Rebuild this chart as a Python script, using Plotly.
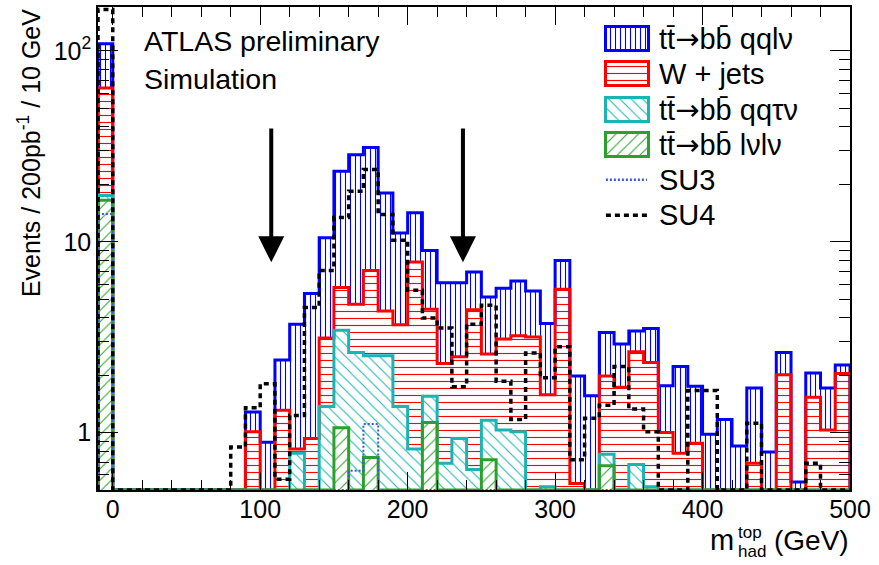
import numpy as np
import plotly.graph_objects as go

# ---------------- data ----------------
bin_edges = np.arange(-10, 501, 10)          # 51 bins of 10 GeV
zeros9 = [0.0] * 9

# per-process contributions (stacked: lvlv -> qqtv -> wjets -> qqlv)
tt_qqlv = [45.0] + zeros9 + [
    0.27, 0.89, 1.09, 2.88, 4.42, 7.37, 17.65, 23.89, 24.12, 13.66,
    7.43, 6.37, 4.57, 3.80, 3.60, 2.54, 2.56, 2.61, 3.00, 2.35,
    2.15, 2.34, 1.44, 1.56, 1.37, 1.18, 0.76, 1.18, 0.76, 1.44,
    0.87, 0.98, 1.17, 0.85, 1.02, 0.79, 0.62, 0.55, 0.52, 0.68,
    0.22]
w_jets = [46.5] + zeros9 + [
    1.01, 0.0, 1.31, 0.04, 0.93, 1.76, 2.31, 2.08, 4.55, 1.81,
    2.30, 7.01, 2.88, 1.61, 1.57, 3.76, 1.42, 2.06, 2.21, 3.17,
    1.06, 5.64, 0.54, 0.0, 1.21, 1.73, 1.97, 1.81, 1.00, 0.78,
    0.88, 0.0, 0.0, 0.0, 0.69, 0.0, 2.01, 0.0, 1.53, 1.03,
    2.04]
tt_qqtv = [1.0] + zeros9 + [
    0.0, 0.0, 0.0, 0.78, 0.0, 1.37, 2.38, 2.63, 1.79, 2.53,
    1.37, 0.82, 0.42, 0.69, 0.93, 0.64, 0.44, 1.03, 1.01, 0.0,
    0.52, 0.0, 0.0, 0.0, 0.10, 0.0, 0.68, 0.52, 0.0, 0.0,
    0.0, 0.0, 0.0, 0.0, 0.0, 0.0, 0.0, 0.0, 0.0, 0.0,
    0.0]
tt_lvlv = [16.5] + zeros9 + [
    0.0, 0.0, 0.0, 0.0, 0.0, 0.0, 1.06, 0.0, 0.74, 0.0,
    0.0, 0.0, 1.13, 0.0, 0.0, 0.0, 0.72, 0.0, 0.0, 0.0,
    0.0, 0.0, 0.0, 0.0, 0.67, 0.0, 0.0, 0.0, 0.0, 0.0,
    0.0, 0.0, 0.0, 0.0, 0.0, 0.0, 0.0, 0.0, 0.0, 0.0,
    0.0]
su3 = [14.0] + zeros9 + [
    0.0, 0.0, 0.0, 0.0, 0.0, 0.0, 0.0, 0.63, 1.11, 0.0] + [0.0] * 31
su4 = [165.0] + [0.0] * 8 + [
    0.84, 1.35, 1.80, 0.57, 1.23, 4.52, 7.08, 13.4, 18.4, 23.9,
    13.9, 10.2, 5.57, 3.98, 3.53, 1.74, 3.70, 4.65, 1.86, 1.17,
    2.61, 1.94, 2.82, 0.72, 1.19, 1.39, 2.22, 1.33, 1.01, 0.0,
    0.0, 1.66, 1.66, 0.0, 0.0, 1.12, 0.0, 0.0, 0.0, 0.69,
    0.0, 0.0]

cut_positions = [107.5, 237.5]          # GeV, arrows
arrow_from, arrow_to = 40.0, 7.8

ARW = "<span style='font-family:DejaVu Sans'>\u2192</span>"
legend_labels = ["tt\u0304" + ARW + "bb\u0304 qql\u03bd", "W + jets",
                 "tt\u0304" + ARW + "bb\u0304 qq\u03c4\u03bd",
                 "tt\u0304" + ARW + "bb\u0304 l\u03bdl\u03bd", "SU3", "SU4"]
x_ticks = [0, 100, 200, 300, 400, 500]
y_ticks = [1, 10, 100]
y_ticktext = ["1", "10", "10<sup>2</sup>"]

# ---------------- styling ----------------
FONT = "Liberation Sans, Arial, Helvetica, sans-serif"
YMIN, YMAX = 0.5, 170.0
BLUE, RED, CYAN, GREEN = "#0000ff", "#ff0000", "#19b4b4", "#2ca02c"
SU3C = "#3a5fcd"
W, H = 879, 565
L, R, T, B = 98.3, 850.0, 5.0, 490.0

def pxx(x):
    return (x - L) / (R - L)

def pxy(y):
    return (B - y) / (B - T)

centers = 0.5 * (bin_edges[:-1] + bin_edges[1:])

lvl_green = np.array(tt_lvlv)
lvl_cyan = lvl_green + np.array(tt_qqtv)
lvl_red = lvl_cyan + np.array(w_jets)
lvl_blue = lvl_red + np.array(tt_qqlv)


def step(vals):
    v = [x if x > 0 else YMIN for x in vals]
    xs = [bin_edges[0]] + list(bin_edges[:-1]) + [bin_edges[-1], bin_edges[-1]]
    ys = [YMIN] + v + [v[-1], YMIN]
    return xs, ys


fig = go.Figure()

layers = [
    (lvl_blue, BLUE, "|", 5, 0.22),
    (lvl_red, RED, "-", 7, 0.16),
    (lvl_cyan, CYAN, "\\", 8, 0.13),
    (lvl_green, GREEN, "/", 8, 0.13),
]
for vals, col, shp, size, sol in layers:
    fig.add_trace(go.Bar(
        x=centers, y=[v if v > 0 else None for v in vals], width=10,
        marker=dict(color="white", line=dict(width=0),
                    pattern=dict(shape=shp, fgcolor=col, bgcolor="white",
                                 size=size, solidity=sol, fillmode="replace")),
        showlegend=False, hoverinfo="skip"))
    xs, ys = step(list(vals))
    fig.add_trace(go.Scatter(x=xs, y=ys, mode="lines",
                             line=dict(color=col, width=3, shape="hv"),
                             showlegend=False, hoverinfo="skip"))

xs, ys = step(su3)
fig.add_trace(go.Scatter(x=xs, y=ys, mode="lines",
                         line=dict(color=SU3C, width=2, shape="hv", dash="2px,2px"),
                         showlegend=False, hoverinfo="skip"))
xs, ys = step(su4)
fig.add_trace(go.Scatter(x=xs, y=ys, mode="lines",
                         line=dict(color="black", width=3.5, shape="hv", dash="5px,4px"),
                         showlegend=False, hoverinfo="skip"))

# ---------------- custom legend (on a pixel-space overlay axis) ----------------
row_y = [37, 72.5, 108, 143.5, 178.5, 214]
box_x0, box_x1, text_x = 606, 649, 657
sw = [(BLUE, "|", 5, 0.22), (RED, "-", 7, 0.16), (CYAN, "\\", 8, 0.13), (GREEN, "/", 8, 0.13)]
for (col, shp, size, sol), yc in zip(sw, row_y[:4]):
    fig.add_trace(go.Bar(
        x=[(box_x0 + box_x1) / 2], y=[24], base=[yc - 12], width=box_x1 - box_x0,
        xaxis="x2", yaxis="y2",
        marker=dict(color="white", line=dict(width=3, color=col),
                    pattern=dict(shape=shp, fgcolor=col, bgcolor="white",
                                 size=size, solidity=sol, fillmode="replace")),
        showlegend=False, hoverinfo="skip"))
fig.add_trace(go.Scatter(x=[box_x0, box_x1 - 2], y=[row_y[4]] * 2, mode="lines",
                         xaxis="x2", yaxis="y2",
                         line=dict(color=SU3C, width=2.5, dash="2px,2px"),
                         showlegend=False, hoverinfo="skip"))
fig.add_trace(go.Scatter(x=[box_x0, box_x1 - 2], y=[row_y[5]] * 2, mode="lines",
                         xaxis="x2", yaxis="y2",
                         line=dict(color="black", width=3.5, dash="5px,4px"),
                         showlegend=False, hoverinfo="skip"))

ann = []
for lab, yc in zip(legend_labels, row_y):
    ann.append(dict(x=pxx(text_x), y=pxy(yc), xref="paper", yref="paper",
                    text=lab, showarrow=False, xanchor="left", yanchor="middle",
                    font=dict(family=FONT, size=29, color="black")))

ann.append(dict(x=pxx(142), y=pxy(39), xref="paper", yref="paper",
                text="ATLAS preliminary", showarrow=False, xanchor="left",
                yanchor="middle", font=dict(family=FONT, size=28.5, color="black")))
ann.append(dict(x=pxx(142), y=pxy(77), xref="paper", yref="paper",
                text="Simulation", showarrow=False, xanchor="left",
                yanchor="middle", font=dict(family=FONT, size=28.5, color="black")))

# axis titles
ann.append(dict(x=pxx(30), y=pxy(152), xref="paper", yref="paper",
                text="Events / 200pb<sup>-1</sup> / 10 GeV", textangle=-90,
                showarrow=False, xanchor="center", yanchor="middle",
                font=dict(family=FONT, size=25, color="black")))
ann.append(dict(x=pxx(851), y=pxy(541), xref="paper", yref="paper",
                text="(GeV)", showarrow=False, xanchor="right", yanchor="middle",
                font=dict(family=FONT, size=28, color="black")))
ann.append(dict(x=pxx(736), y=pxy(540), xref="paper", yref="paper",
                text="m", showarrow=False, xanchor="right", yanchor="middle",
                font=dict(family=FONT, size=29, color="black")))
ann.append(dict(x=pxx(736), y=pxy(533), xref="paper", yref="paper",
                text="top", showarrow=False, xanchor="left", yanchor="middle",
                font=dict(family=FONT, size=17, color="black")))
ann.append(dict(x=pxx(736), y=pxy(552), xref="paper", yref="paper",
                text="had", showarrow=False, xanchor="left", yanchor="middle",
                font=dict(family=FONT, size=17, color="black")))

for xc in cut_positions:
    ann.append(dict(x=xc, y=np.log10(arrow_to), ax=xc, ay=np.log10(arrow_from),
                    xref="x", yref="y", axref="x", ayref="y", text="",
                    showarrow=True, arrowhead=2, arrowsize=1.3, arrowwidth=4,
                    arrowcolor="black", standoff=0))

minor_y = [m * 10 ** e for e in (-1, 0, 1, 2) for m in range(2, 10)
           if YMIN < m * 10 ** e < YMAX and m * 10 ** e not in y_ticks]

fig.update_layout(
    width=W, height=H, autosize=False,
    margin=dict(l=L, r=W - R, t=T, b=H - B, pad=0),
    paper_bgcolor="white", plot_bgcolor="white",
    barmode="overlay", bargap=0,
    font=dict(family=FONT, size=25, color="black"),
    annotations=ann,
    xaxis=dict(range=[-10, 500], tickvals=x_ticks, ticks="inside", ticklen=18,
               tickwidth=1.2, tickcolor="black", showline=True, linecolor="black",
               linewidth=1.5, mirror="allticks", showgrid=False, zeroline=False,
               ticklabelstandoff=-4,
               tickfont=dict(family=FONT, size=25, color="black"),
               minor=dict(dtick=20, tick0=0, ticks="inside", ticklen=10,
                          tickcolor="black", tickwidth=1.2, showgrid=False)),
    yaxis=dict(type="log", range=[np.log10(YMIN), np.log10(YMAX)],
               tickvals=y_ticks, ticktext=y_ticktext, ticks="inside", ticklen=20,
               tickwidth=1.2, tickcolor="black", showline=True, linecolor="black",
               linewidth=1.5, mirror="allticks", showgrid=False, zeroline=False,
               tickfont=dict(family=FONT, size=25, color="black"),
               minor=dict(tickvals=minor_y, ticks="inside", ticklen=11,
                          tickcolor="black", tickwidth=1.2, showgrid=False)),
    xaxis2=dict(range=[L, R], overlaying="x", visible=False, fixedrange=True),
    yaxis2=dict(range=[B, T], overlaying="y", visible=False, fixedrange=True),
)

fig.write_html("out.html")
